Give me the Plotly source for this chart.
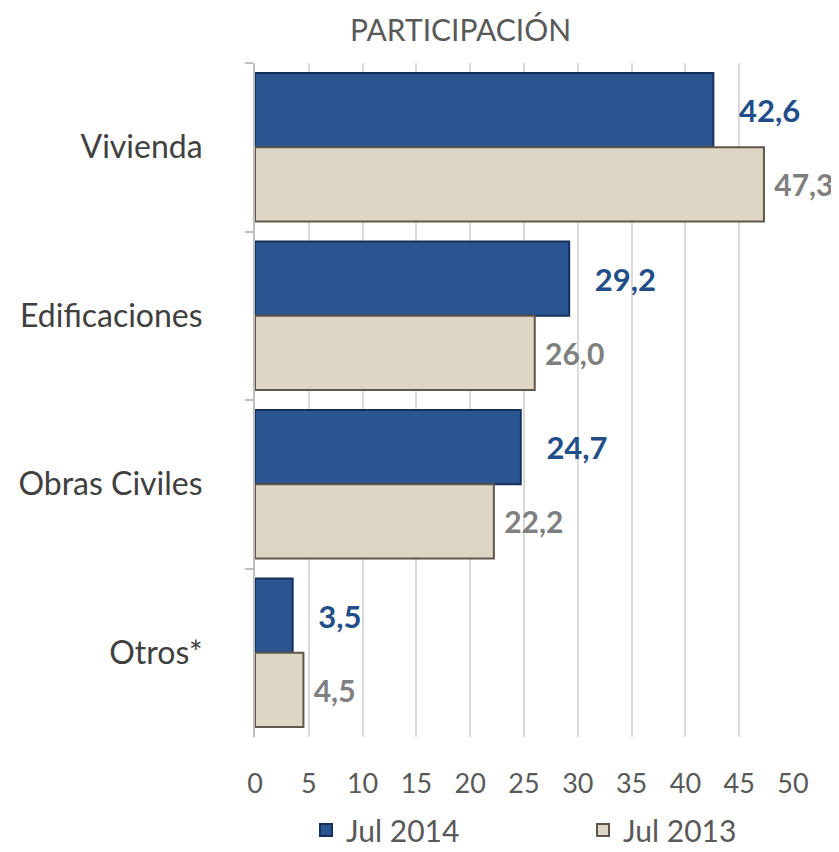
import plotly.graph_objects as go

categories = ["Vivienda", "Edificaciones", "Obras Civiles", "Otros*"]
jul_2014 = [42.6, 29.2, 24.7, 3.5]
jul_2013 = [47.3, 26.0, 22.2, 4.5]
x_ticks = [0, 5, 10, 15, 20, 25, 30, 35, 40, 45, 50]

FONT = "Lato, 'Open Sans', sans-serif"
# page body has an 8px margin; figure is sized to fill the rest of the window
W, H = 831, 844
L, R, T, B = 247, 46, 55, 115
PW, PH = W - L - R, H - T - B


def px_x(x):
    return (x - L) / PW


def px_y(y):
    return (H - B - y) / PH


fig = go.Figure()
fig.add_trace(go.Bar(
    y=categories, x=jul_2014, orientation="h", name="Jul 2014",
    marker=dict(color="#2B5591", line=dict(color="#15305A", width=2)),
    texttemplate="   %{x:.1f}", textposition="outside", cliponaxis=False,
    textfont=dict(family=FONT, size=31, color="#1F4E8A", weight="bold"),
    legend="legend",
))
fig.add_trace(go.Bar(
    y=categories, x=jul_2013, orientation="h", name="Jul 2013",
    marker=dict(color="#DDD6C4", line=dict(color="#5E574A", width=2)),
    texttemplate=" %{x:.1f}", textposition="outside", cliponaxis=False,
    textfont=dict(family=FONT, size=30, color="#7F7F7F", weight="bold"),
    legend="legend2",
))

legend_common = dict(orientation="h", yanchor="middle", y=px_y(822), xanchor="left",
                     font=dict(size=30, color="#595959"), itemwidth=30,
                     bgcolor="rgba(0,0,0,0)")

fig.update_layout(
    width=W, height=H,
    margin=dict(l=L, r=R, t=T, b=B, autoexpand=False),
    paper_bgcolor="white", plot_bgcolor="white",
    barmode="group", bargap=0.12, bargroupgap=0,
    separators=",.",
    font=dict(family=FONT, color="#595959"),
    showlegend=True,
    legend=dict(x=px_x(298), **legend_common),
    legend2=dict(x=px_x(575), **legend_common),
    annotations=[dict(text="PARTICIPACIÓN", x=px_x(452), xref="paper", y=px_y(1), yref="paper",
                      xanchor="center", yanchor="top", showarrow=False,
                      font=dict(size=30, color="#595959"))],
)

fig.update_xaxes(range=[0, 50], tickvals=x_ticks, showgrid=True, gridcolor="#D9D9D9",
                 gridwidth=2, zeroline=False, showline=False,
                 tickfont=dict(size=27, color="#595959"), ticks="", ticklabelstandoff=28)
fig.update_yaxes(autorange="reversed", showline=True, linecolor="#BFBFBF", linewidth=2,
                 ticks="outside", tickson="boundaries", ticklen=8, tickcolor="#BFBFBF",
                 tickwidth=2, tickfont=dict(size=32, color="#404040"), ticklabelstandoff=44)

fig.write_html("out.html")
